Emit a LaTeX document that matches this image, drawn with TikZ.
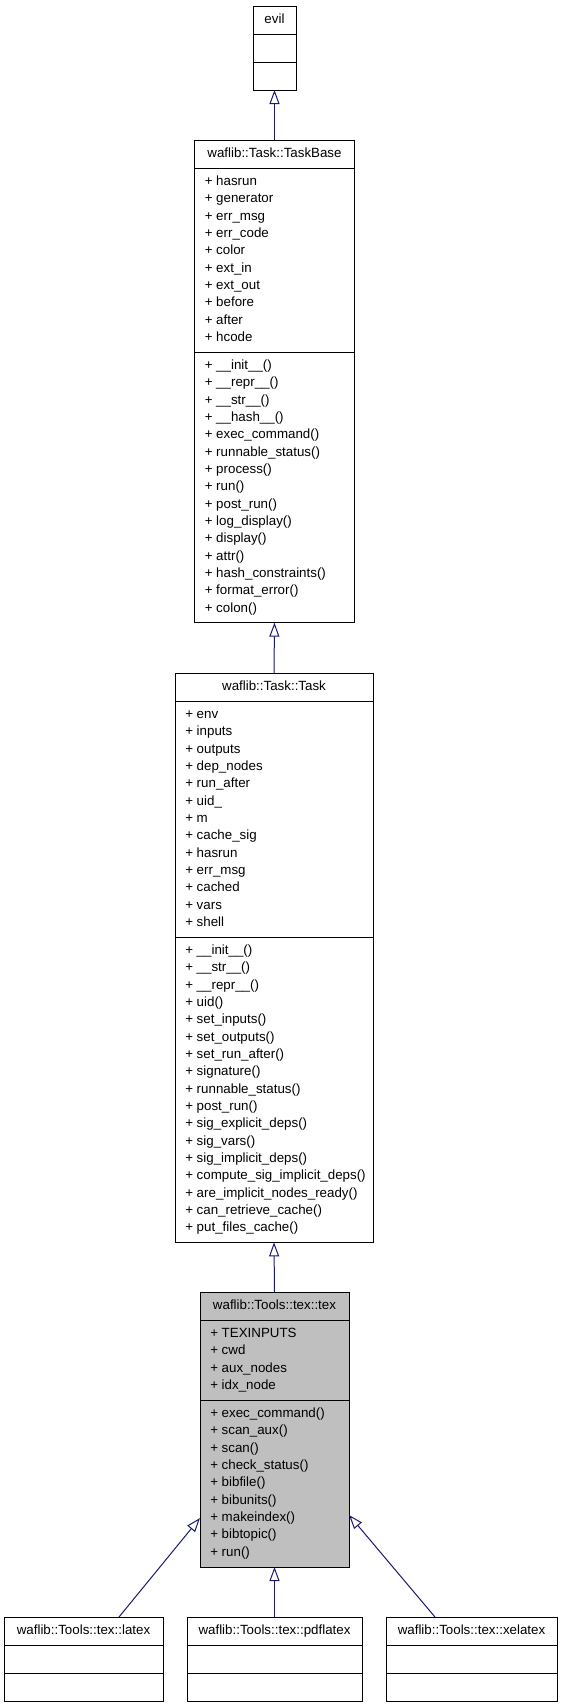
\documentclass[tikz,border=0pt]{standalone}
\usepackage{fontspec}
\setmainfont{Liberation Sans}
\usetikzlibrary{arrows.meta}
\definecolor{edgeblue}{RGB}{25,25,112}
\definecolor{boxgray}{RGB}{191,191,191}
\begin{document}
\begin{tikzpicture}[x=0.75pt,y=0.75pt,
		cls/.style={draw=black,line width=0.75pt,anchor=north west,outer sep=0pt},
		member/.style={anchor=base west,font=\fontsize{10}{12}\selectfont},
		title/.style={anchor=base,font=\fontsize{10}{12}\selectfont},
		inherit/.style={draw=edgeblue,line width=0.75pt,-{Triangle[open,length=10.5pt,width=7.5pt]}}]
		\tikzstyle{every node}+=[inner sep=0pt]
		\useasboundingbox (0,0) rectangle (563,-1707);
		\node [cls,minimum width=32.25pt,minimum height=63pt] (evil) at (253,-6) {};
		\draw (evil.west |- 0,-34) -- (evil.east |- 0,-34);
		\draw (evil.west |- 0,-62) -- (evil.east |- 0,-62);
		\node [title] (evil-name) at (274.5,-23.5) {evil};
		\node [cls,minimum width=120pt,minimum height=362pt] (taskbase) at (194.5,-140) {};
		\draw (taskbase.west |- 0,-168) -- (taskbase.east |- 0,-168);
		\draw (taskbase.west |- 0,-352) -- (taskbase.east |- 0,-352);
		\node [title] (taskbase-name) at (274.5,-157.5) {waflib::Task::TaskBase};
		\foreach \m [count=\i] in {hasrun,generator,err\_msg,err\_code,color,ext\_in,ext\_out,before,after,hcode}
			\node [member] (taskbase-a\i) at (204.5,{-168-0.17-\i*17.33}) {+ \m};
		\foreach \m [count=\i] in {\_\_init\_\_(),\_\_repr\_\_(),\_\_str\_\_(),\_\_hash\_\_(),exec\_command(),runnable\_status(),process(),run(),post\_run(),log\_display(),display(),attr(),hash\_constraints(),format\_error(),colon()}
			\node [member] (taskbase-m\i) at (204.5,{-352-0.17-\i*17.33}) {+ \m};
		\node [cls,minimum width=148.5pt,minimum height=427pt] (task) at (175,-673) {};
		\draw (task.west |- 0,-701) -- (task.east |- 0,-701);
		\draw (task.west |- 0,-937) -- (task.east |- 0,-937);
		\node [title] (task-name) at (274,-690.5) {waflib::Task::Task};
		\foreach \m [count=\i] in {env,inputs,outputs,dep\_nodes,run\_after,uid\_,m,cache\_sig,hasrun,err\_msg,cached,vars,shell}
			\node [member] (task-a\i) at (185,{-701-0.17-\i*17.33}) {+ \m};
		\foreach \m [count=\i] in {\_\_init\_\_(),\_\_str\_\_(),\_\_repr\_\_(),uid(),set\_inputs(),set\_outputs(),set\_run\_after(),signature(),runnable\_status(),post\_run(),sig\_explicit\_deps(),sig\_vars(),sig\_implicit\_deps(),compute\_sig\_implicit\_deps(),are\_implicit\_nodes\_ready(),can\_retrieve\_cache(),put\_files\_cache()}
			\node [member] (task-m\i) at (185,{-937-0.17-\i*17.33}) {+ \m};
		\node [cls,fill=boxgray,minimum width=111.75pt,minimum height=206.25pt] (tex) at (200,-1292) {};
		\draw (tex.west |- 0,-1320) -- (tex.east |- 0,-1320);
		\draw (tex.west |- 0,-1400) -- (tex.east |- 0,-1400);
		\node [title] (tex-name) at (274.5,-1309.5) {waflib::Tools::tex::tex};
		\foreach \m [count=\i] in {TEXINPUTS,cwd,aux\_nodes,idx\_node}
			\node [member] (tex-a\i) at (210,{-1320-0.17-\i*17.33}) {+ \m};
		\foreach \m [count=\i] in {exec\_command(),scan\_aux(),scan(),check\_status(),bibfile(),bibunits(),makeindex(),bibtopic(),run()}
			\node [member] (tex-m\i) at (210,{-1400-0.17-\i*17.33}) {+ \m};
		\node [cls,minimum width=119.25pt,minimum height=63pt] (latex) at (4,-1617) {};
		\draw (latex.west |- 0,-1645) -- (latex.east |- 0,-1645);
		\draw (latex.west |- 0,-1673) -- (latex.east |- 0,-1673);
		\node [title] (latex-name) at (83.5,-1634.5) {waflib::Tools::tex::latex};
		\node [cls,minimum width=131.25pt,minimum height=63pt] (pdflatex) at (187,-1617) {};
		\draw (pdflatex.west |- 0,-1645) -- (pdflatex.east |- 0,-1645);
		\draw (pdflatex.west |- 0,-1673) -- (pdflatex.east |- 0,-1673);
		\node [title] (pdflatex-name) at (274.5,-1634.5) {waflib::Tools::tex::pdflatex};
		\node [cls,minimum width=128.25pt,minimum height=63pt] (xelatex) at (386,-1617) {};
		\draw (xelatex.west |- 0,-1645) -- (xelatex.east |- 0,-1645);
		\draw (xelatex.west |- 0,-1673) -- (xelatex.east |- 0,-1673);
		\node [title] (xelatex-name) at (471.5,-1634.5) {waflib::Tools::tex::xelatex};
		\draw [inherit] (taskbase.north) -- (evil.south);
		\draw [inherit] (task.north) -- (taskbase.south);
		\draw [inherit] (tex.north) -- (task.south);
		\draw [inherit] ([xshift=-33pt]latex.north east) -- ([yshift=36.75pt]tex.south west);
		\draw [inherit] (pdflatex.north) -- (tex.south);
		\draw [inherit] ([xshift=36.75pt]xelatex.north west) -- ([yshift=39pt]tex.south east);
\end{tikzpicture}
\end{document}
